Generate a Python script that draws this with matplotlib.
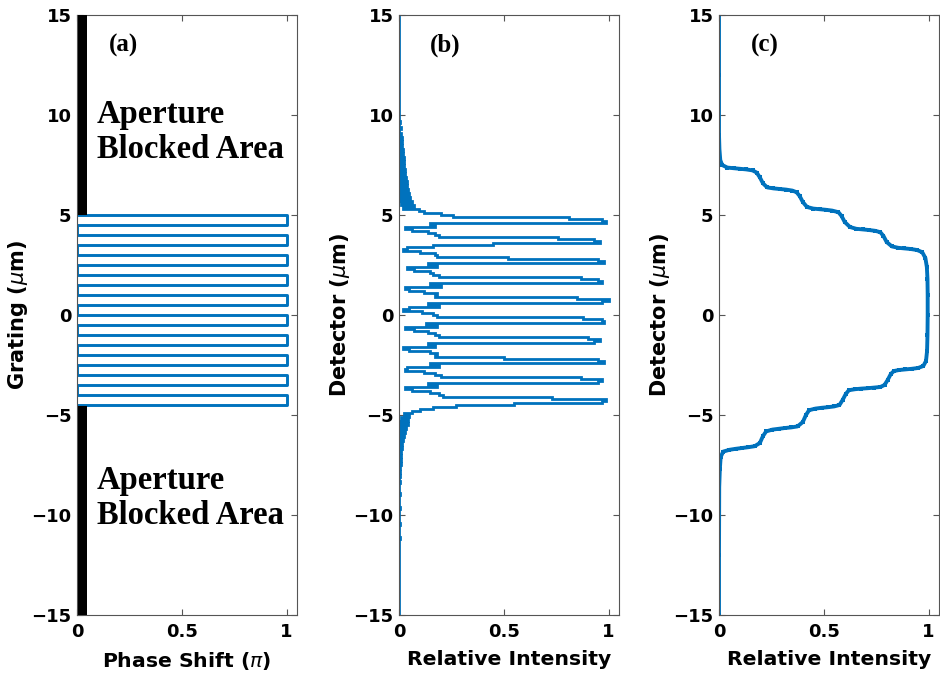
import numpy as np
import matplotlib
matplotlib.use("Agg")
import matplotlib.pyplot as plt
from matplotlib.patches import Rectangle

# ---------------- data ----------------
# (a) binary phase grating: segment edges along the grating (um) and phase (units of pi)
grating_edges = [-15.0, -4.5, -4.0, -3.5, -3.0, -2.5, -2.0, -1.5, -1.0, -0.5, 0.0,
                 0.5, 1.0, 1.5, 2.0, 2.5, 3.0, 3.5, 4.0, 4.5, 5.0, 15.0]
grating_phase = [0, 1, 0, 1, 0, 1, 0, 1, 0, 1, 0, 1, 0, 1, 0, 1, 0, 1, 0, 1, 0]
aperture_upper = (5.0, 15.0)
aperture_lower = (-15.0, -4.55)
aperture_width = 0.05

# (b) detector intensity, 0.1 um bins, listed from the top (y = 10.0) downward
det_bin = 0.1
det_top = 10.0
upper_tail = [0.0, 0.0, 0.0, 0.006, 0.0, 0.0, 0.009, 0.0, 0.0, 0.011,
              0.0, 0.013, 0.0, 0.015, 0.0, 0.016, 0.0, 0.018, 0.0, 0.020,
              0.0, 0.022, 0.0, 0.024, 0.0, 0.026, 0.0, 0.029, 0.0, 0.031,
              0.0, 0.034, 0.0, 0.036, 0.0, 0.039, 0.0, 0.043, 0.0, 0.047,
              0.002, 0.052, 0.004, 0.060, 0.008, 0.072, 0.020, 0.095, 0.120, 0.200,
              0.260]
# one list per grating period: shoulder, two peak bins, then the dark region
period_profiles = [
    [0.81, 0.97, 0.99, 0.15, 0.17, 0.03, 0.06, 0.14, 0.17, 0.19],
    [0.76, 0.93, 0.96, 0.45, 0.16, 0.04, 0.02, 0.10, 0.17, 0.18],
    [0.52, 0.95, 0.98, 0.14, 0.18, 0.04, 0.07, 0.15, 0.16, 0.19],
    [0.87, 0.95, 0.97, 0.15, 0.20, 0.03, 0.05, 0.12, 0.18, 0.17],
    [0.85, 1.00, 0.97, 0.14, 0.19, 0.05, 0.02, 0.11, 0.16, 0.18],
    [0.88, 0.97, 0.98, 0.13, 0.18, 0.03, 0.07, 0.14, 0.17, 0.19],
    [0.90, 0.96, 0.93, 0.14, 0.17, 0.02, 0.05, 0.15, 0.18, 0.17],
    [0.50, 0.95, 0.98, 0.15, 0.19, 0.04, 0.03, 0.12, 0.17, 0.20],
    [0.87, 0.97, 0.95, 0.14, 0.18, 0.03, 0.06, 0.15, 0.19, 0.21],
    [0.73, 0.99, 0.97],
]
lower_tail = [0.55, 0.27, 0.16, 0.10, 0.06, 0.025, 0.050, 0.010, 0.045, 0.004,
              0.042, 0.0, 0.035, 0.0, 0.028, 0.0, 0.023, 0.0, 0.019, 0.0,
              0.016, 0.0, 0.013, 0.0, 0.011, 0.0, 0.010, 0.0, 0.009, 0.0,
              0.008, 0.0, 0.007, 0.0, 0.006, 0.0, 0.006, 0.0, 0.0, 0.005,
              0.0, 0.0, 0.0, 0.0, 0.0, 0.005, 0.0, 0.0, 0.0, 0.0,
              0.0, 0.0, 0.004, 0.0, 0.0, 0.0, 0.0, 0.0, 0.0, 0.0,
              0.004, 0.0, 0.0, 0.0, 0.0, 0.0, 0.0, 0.003, 0.0, 0.0]

# (c) detector intensity with a wide detector: (intensity, position um) from top to bottom
wide_intensity = [0.0, 0.0, 0.0, 0.002, 0.006, 0.015, 0.04, 0.07, 0.10, 0.13, 0.16,
                  0.18, 0.195, 0.21, 0.23, 0.26, 0.29, 0.32, 0.35, 0.37,
                  0.385, 0.40, 0.42, 0.45, 0.48, 0.51, 0.54, 0.57,
                  0.585, 0.60, 0.625, 0.655, 0.685, 0.715, 0.745, 0.77,
                  0.785, 0.80, 0.825, 0.855, 0.885, 0.915, 0.945, 0.97,
                  0.985, 0.992, 0.995, 0.996, 0.996, 0.995, 0.993,
                  0.988, 0.975, 0.95, 0.92, 0.89, 0.86, 0.835,
                  0.82, 0.805, 0.79, 0.77, 0.74, 0.71, 0.68, 0.65, 0.62,
                  0.605, 0.59, 0.575, 0.55, 0.52, 0.49, 0.46, 0.43,
                  0.415, 0.40, 0.375, 0.345, 0.315, 0.285, 0.255, 0.225,
                  0.21, 0.195, 0.17, 0.14, 0.11, 0.08, 0.05, 0.02,
                  0.008, 0.004, 0.001, 0.0, 0.0]
wide_position = [15.0, 12.0, 9.0, 8.3, 7.75, 7.5, 7.37, 7.34, 7.31, 7.28, 7.23,
                 7.12, 6.88, 6.58, 6.38, 6.33, 6.30, 6.27, 6.22, 6.14,
                 5.95, 5.65, 5.40, 5.32, 5.29, 5.26, 5.22, 5.14,
                 4.95, 4.65, 4.40, 4.31, 4.28, 4.25, 4.21, 4.14,
                 3.95, 3.65, 3.43, 3.36, 3.33, 3.30, 3.25, 3.14,
                 2.85, 2.40, 1.80, 1.00, 0.00, -1.00, -1.80,
                 -2.30, -2.55, -2.65, -2.69, -2.72, -2.75, -2.80,
                 -2.95, -3.25, -3.50, -3.60, -3.63, -3.66, -3.68, -3.71, -3.76,
                 -3.95, -4.25, -4.50, -4.57, -4.61, -4.64, -4.68, -4.76,
                 -5.00, -5.35, -5.57, -5.62, -5.65, -5.69, -5.73, -5.82,
                 -6.05, -6.40, -6.56, -6.61, -6.65, -6.69, -6.74, -6.83,
                 -7.10, -7.70, -8.60, -12.0, -15.0]

panel_tags = ["(a)", "(b)", "(c)"]
x_labels = ["Phase Shift ($\\pi$)", "Relative Intensity", "Relative Intensity"]
y_labels = ["Grating ($\\mu$m)", "Detector ($\\mu$m)", "Detector ($\\mu$m)"]
aperture_text = "Aperture\nBlocked Area"
x_ticks = [0, 0.5, 1]
x_tick_labels = ["0", "0.5", "1"]
y_ticks = [-15, -10, -5, 0, 5, 10, 15]
y_tick_labels = ["\u221215", "\u221210", "\u22125", "0", "5", "10", "15"]

# ---------------- drawing ----------------
BLUE = "#0072BD"
SPINE = "#555555"

fig = plt.figure(figsize=(9.4, 6.75), dpi=100)
lefts = [77 / 940, 399 / 940, 719 / 940]
axes = [fig.add_axes([l, 60 / 675, 220 / 940, 600 / 675]) for l in lefts]

# (a) grating phase profile with the aperture stops
ax = axes[0]
ax.stairs(grating_phase, grating_edges, orientation="horizontal", baseline=None,
          color=BLUE, linewidth=2.1, joinstyle="round", zorder=2)
for y0, y1 in (aperture_upper, aperture_lower):
    ax.add_patch(Rectangle((0.004, y0), aperture_width - 0.004, y1 - y0,
                           facecolor="black", edgecolor="none", zorder=3))
for yc in (9.15, -9.15):
    ax.text(0.095, yc, aperture_text, ha="left", va="center",
            fontsize=23.5, fontweight="bold", family="Liberation Serif",
            linespacing=1.15, zorder=4)

# (b) detector intensity as a stepped profile
values_td = list(upper_tail) + [v for p in period_profiles for v in p] + list(lower_tail)
n_top_pad = int(round((15.0 - det_top) / det_bin))
n_bins = int(round(30.0 / det_bin))
profile_td = [0.0] * n_top_pad + values_td
profile_td = profile_td + [0.0] * (n_bins - len(profile_td))
edges_up = np.linspace(-15.0, 15.0, n_bins + 1)
ax = axes[1]
ax.stairs(profile_td[::-1], edges_up, orientation="horizontal", baseline=None,
          color=BLUE, linewidth=2.0, zorder=2)

# (c) intensity seen by a wide detector
ax = axes[2]
ax.plot(wide_intensity, wide_position, color=BLUE, linewidth=2.8,
        marker="s", markersize=3.4, markeredgewidth=0, zorder=2)

for ax, tag, xl, yl in zip(axes, panel_tags, x_labels, y_labels):
    ax.set_xlim(0, 1.05)
    ax.set_ylim(-15, 15)
    ax.set_xticks(x_ticks)
    ax.set_xticklabels(x_tick_labels)
    ax.set_yticks(y_ticks)
    ax.set_yticklabels(y_tick_labels)
    ax.tick_params(direction="in", top=True, right=True, length=4.5, width=0.8,
                   color=SPINE, labelsize=13)
    ax.tick_params(axis="x", pad=6)
    ax.tick_params(axis="y", pad=4)
    for lab in ax.get_xticklabels() + ax.get_yticklabels():
        lab.set_fontweight("bold")
    for sp in ax.spines.values():
        sp.set_color(SPINE)
        sp.set_linewidth(0.8)
    ax.set_xlabel(xl, fontsize=14.7, fontweight="bold", labelpad=6)
    ax.set_ylabel(yl, fontsize=15, fontweight="bold", labelpad=1)
    ax.text(0.22, 13.5, tag, ha="center", va="center", fontsize=18,
            fontweight="bold", family="Liberation Serif", zorder=4)

fig.savefig("out.png", dpi=100)
